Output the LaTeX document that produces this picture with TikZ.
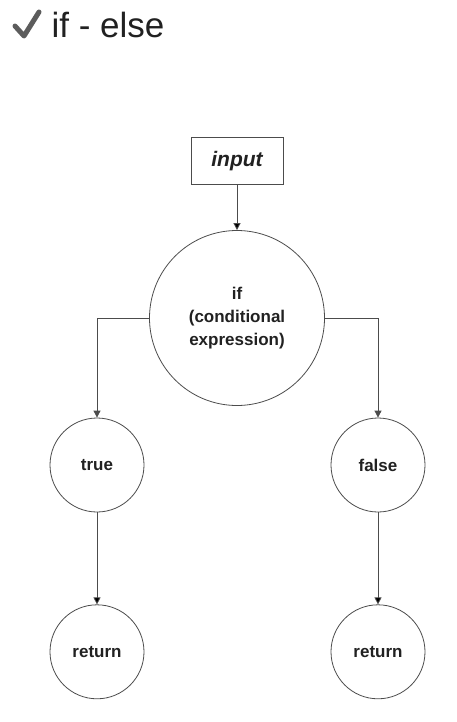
\documentclass[tikz,border=0pt]{standalone}
\usepackage{fontspec}
\setmainfont{Liberation Sans}
\usetikzlibrary{arrows.meta,positioning}
\definecolor{linecolor}{rgb}{0.3,0.3,0.3}
\definecolor{textcolor}{rgb}{0.13,0.13,0.13}
\definecolor{checkcolor}{rgb}{0.36,0.36,0.36}

\begin{document}
\begin{tikzpicture}[->,>={Triangle[length=7pt,width=7pt]},x=1pt,y=-1pt,semithick]
  \tikzstyle{every node}=[text=textcolor,font=\bfseries\fontsize{17}{23}\selectfont]
  \tikzstyle{bubble}=[circle,draw=linecolor,thick,inner sep=0pt,align=center]
  \tikzstyle{link}=[draw=linecolor,thick]
  \useasboundingbox (0,0) rectangle (456,722);

  % check mark and heading
  \draw[-,draw=checkcolor,line width=5pt,line cap=round,line join=round]
       (15,26) -- (24,36) -- (39,12);
  \node[anchor=base west,font=\fontsize{35}{40}\selectfont] (title) at (48,38) {if - else};

  \node[rectangle,draw=linecolor,thick,minimum width=92pt,minimum height=47pt,
        font=\bfseries\itshape\fontsize{21}{24}\selectfont] (input) at (237,161) {input};
  \node[bubble,minimum size=175pt] (cond) at (237,318) {if\\(conditional\\expression)};

  \node[bubble,minimum size=94pt]          (true)    at (97,465)  {true};
  \node[bubble,minimum size=94pt]          (false)   at (378,465) {false};
  \node[bubble,minimum size=94pt,below=92pt of true]  (rettrue)  {return};
  \node[bubble,minimum size=94pt,below=92pt of false] (retfalse) {return};

  \path[link] (input) edge (cond)
              (true) edge (rettrue)
              (false) edge (retfalse);
  \draw[link] (cond.west) -| (true);
  \draw[link] (cond.east) -| (false);

\end{tikzpicture}
\end{document}
